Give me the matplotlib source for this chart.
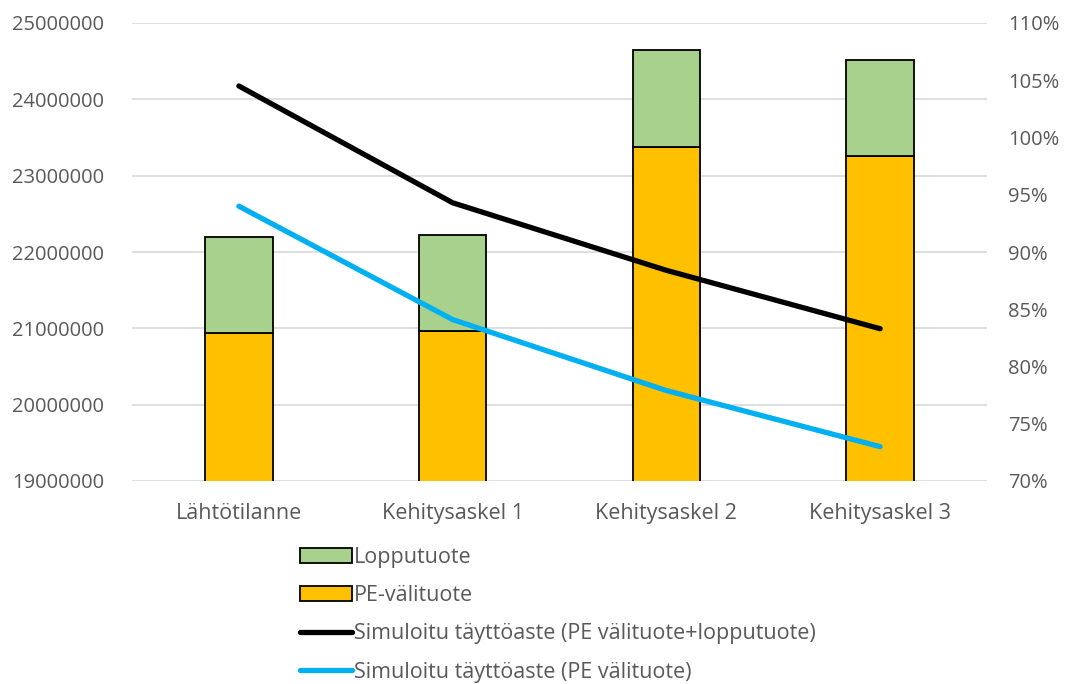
import matplotlib
matplotlib.use("Agg")
import matplotlib.pyplot as plt
from matplotlib.patches import Patch
from matplotlib.lines import Line2D
from matplotlib.ticker import FuncFormatter, MultipleLocator

plt.rcParams['font.family'] = ['Open Sans', 'DejaVu Sans']

categories = ["Lähtötilanne", "Kehitysaskel 1", "Kehitysaskel 2", "Kehitysaskel 3"]
pe_valituote = [20940000, 20960000, 23380000, 23260000]
lopputuote = [1260000, 1260000, 1260000, 1260000]
taytto_kaikki = [104.5, 94.3, 88.4, 83.3]
taytto_pe = [94.0, 84.1, 77.9, 73.0]

TEXT = "#595959"
GRID = "#d9d9d9"
FS = 15.5
FS_Y = 14.5

fig = plt.figure(figsize=(10.76, 6.84), dpi=100)
ax = fig.add_axes([132 / 1076, 1 - 481 / 684, (987 - 132) / 1076, (481 - 23) / 684])
ax2 = ax.twinx()

x = list(range(len(categories)))
w = 0.315
ax.bar(x, pe_valituote, width=w, color="#FFC000", edgecolor="black", linewidth=1.3, zorder=2)
ax.bar(x, lopputuote, width=w, bottom=pe_valituote, color="#A9D18E", edgecolor="black",
       linewidth=1.3, zorder=2)

ax.set_ylim(19000000, 25000000)
ax.yaxis.set_major_locator(MultipleLocator(1000000))
ax.yaxis.set_major_formatter(FuncFormatter(lambda v, p: f"{int(v)}"))
ax.set_xlim(-0.5, len(categories) - 0.5)
ax.set_xticks(x)
ax.set_xticklabels(categories)
ax.grid(axis="y", color=GRID, linewidth=1.2, zorder=0)
ax.set_axisbelow(True)

ax2.plot(x, taytto_kaikki, color="black", linewidth=3.8, solid_capstyle="round", zorder=3)
ax2.plot(x, taytto_pe, color="#00B0F0", linewidth=3.8, solid_capstyle="round", zorder=3)
ax2.set_ylim(70, 110)
ax2.yaxis.set_major_locator(MultipleLocator(5))
ax2.yaxis.set_major_formatter(FuncFormatter(lambda v, p: f"{int(round(v))}%"))

for a in (ax, ax2):
    for s in a.spines.values():
        s.set_visible(False)
    a.tick_params(length=0, labelcolor=TEXT)
ax.tick_params(axis="x", labelsize=FS, pad=16)
ax.tick_params(axis="y", labelsize=FS_Y, pad=20)
ax2.tick_params(axis="y", labelsize=FS_Y, pad=15)

ax.set_zorder(ax2.get_zorder() - 1)
ax.patch.set_visible(True)
ax2.patch.set_visible(False)

handles = [
    Patch(facecolor="#A9D18E", edgecolor="black", linewidth=1.3),
    Patch(facecolor="#FFC000", edgecolor="black", linewidth=1.3),
    Line2D([], [], color="black", linewidth=3.8, solid_capstyle="round"),
    Line2D([], [], color="#00B0F0", linewidth=3.8, solid_capstyle="round"),
]
labels = ["Lopputuote", "PE-välituote",
          "Simuloitu täyttöaste (PE välituote+lopputuote)",
          "Simuloitu täyttöaste (PE välituote)"]
leg = fig.legend(handles, labels, loc="upper left", bbox_to_anchor=(300 / 1076, 1 - 547 / 684),
                 frameon=False, fontsize=FS, handlelength=2.4, handleheight=0.65,
                 handletextpad=0.1, labelspacing=0.8, borderaxespad=0, borderpad=0)
for t in leg.get_texts():
    t.set_color(TEXT)

fig.savefig("out.png", dpi=100)
